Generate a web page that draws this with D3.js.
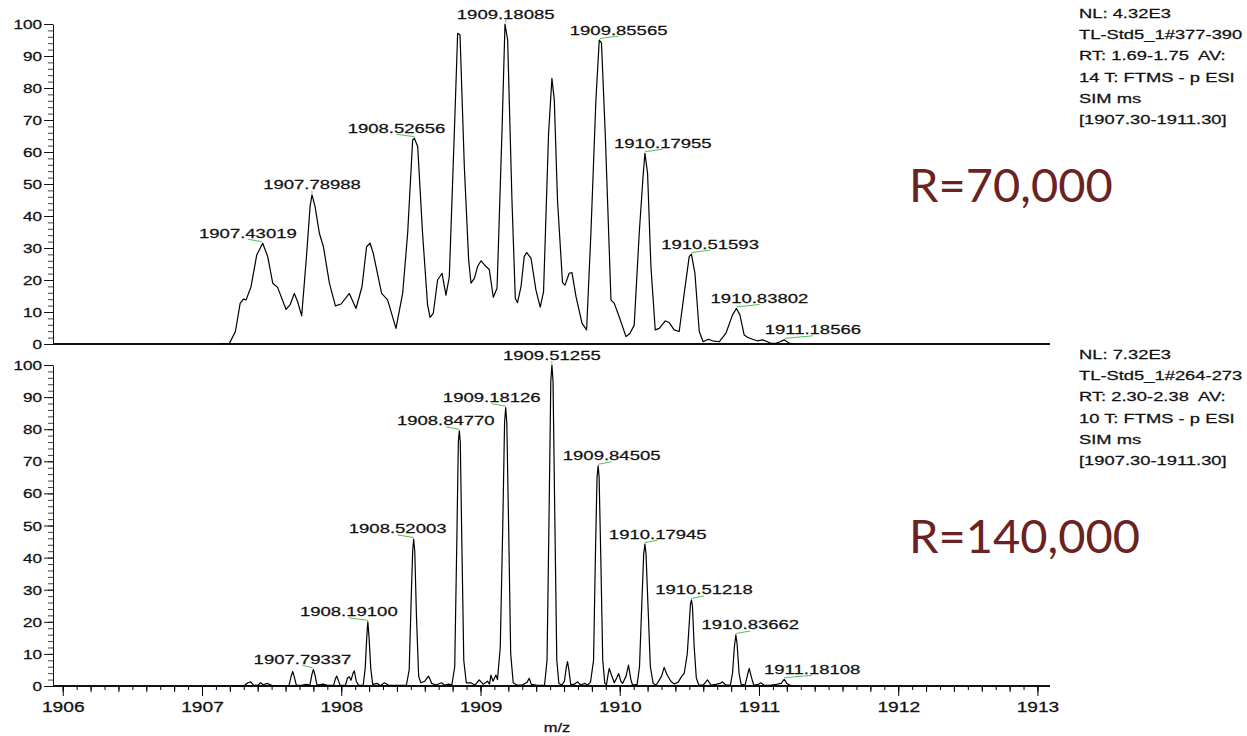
<!DOCTYPE html>
<html>
<head>
<meta charset="utf-8">
<script src="https://cdn.jsdelivr.net/npm/d3@7"></script>
<style>
body { margin: 0; background: #fff; }
svg text { font-family: "Liberation Sans", Arial, sans-serif; fill: #111; stroke: #111; stroke-width: 0.25px; }
svg text.res { stroke: none; }
.info { white-space: pre; }
</style>
</head>
<body>
<svg id="chart" width="1247" height="736"></svg>
<script>
// R=70,000 profile, [m/z, relative abundance]
var topProfile = [
  [1907.125, 0], [1907.197, 0.2], [1907.240, 3.9], [1907.274, 12.7], [1907.297, 14.0],
  [1907.317, 13.8], [1907.352, 17.9], [1907.393, 27.8], [1907.436, 31.5], [1907.472, 27.3],
  [1907.508, 19.0], [1907.543, 17.7], [1907.604, 10.8], [1907.632, 12.2], [1907.663, 15.8],
  [1907.687, 13.2], [1907.716, 8.8], [1907.752, 28.3], [1907.776, 42.9], [1907.790, 46.6],
  [1907.812, 42.9], [1907.843, 34.6], [1907.872, 30.4], [1907.915, 19.0], [1907.958, 11.9],
  [1907.999, 12.5], [1908.058, 15.8], [1908.106, 11.1], [1908.149, 17.9], [1908.182, 30.4],
  [1908.207, 31.5], [1908.230, 28.3], [1908.290, 15.8], [1908.333, 13.8], [1908.393, 4.9],
  [1908.441, 15.8], [1908.477, 34.6], [1908.513, 63.8], [1908.525, 64.3], [1908.549, 61.7],
  [1908.584, 34.6], [1908.620, 12.2], [1908.638, 8.3], [1908.661, 9.6], [1908.692, 20.0],
  [1908.724, 22.1], [1908.752, 15.3], [1908.776, 21.0], [1908.812, 65.8], [1908.836, 97.1],
  [1908.853, 96.6], [1908.884, 55.4], [1908.915, 26.3], [1908.932, 19.0], [1908.956, 20.5],
  [1908.979, 24.2], [1909.004, 26.0], [1909.040, 24.2], [1909.063, 23.3], [1909.092, 14.6],
  [1909.119, 17.4], [1909.154, 65.8], [1909.176, 100], [1909.195, 95.0], [1909.226, 45.0],
  [1909.250, 14.3], [1909.266, 12.9], [1909.291, 17.9], [1909.314, 27.3], [1909.331, 28.6],
  [1909.363, 26.8], [1909.398, 16.9], [1909.422, 12.7], [1909.429, 11.5], [1909.453, 16.4],
  [1909.489, 65.8], [1909.513, 83.0], [1909.530, 76.3], [1909.553, 45.0], [1909.589, 19.2],
  [1909.607, 18.4], [1909.637, 22.1], [1909.657, 22.3], [1909.686, 14.8], [1909.729, 6.5],
  [1909.762, 4.4], [1909.793, 34.6], [1909.829, 76.3], [1909.853, 95.0], [1909.869, 94.0],
  [1909.896, 65.8], [1909.937, 13.8], [1909.961, 12.7], [1909.996, 8.5], [1910.045, 2.3],
  [1910.073, 3.3], [1910.104, 5.9], [1910.140, 34.6], [1910.169, 53.3], [1910.181, 59.6],
  [1910.200, 53.3], [1910.224, 24.2], [1910.255, 4.4], [1910.284, 4.9], [1910.327, 7.2],
  [1910.355, 6.7], [1910.391, 4.4], [1910.427, 3.9], [1910.463, 15.8], [1910.499, 27.3],
  [1910.515, 28.1], [1910.540, 22.1], [1910.571, 3.9], [1910.599, 0.7], [1910.637, 1.5],
  [1910.666, 1.0], [1910.714, 0.7], [1910.762, 3.3], [1910.810, 9.1], [1910.838, 11.1],
  [1910.863, 9.1], [1910.894, 2.8], [1910.917, 2.1], [1910.953, 1.5], [1910.989, 1.0],
  [1911.025, 1.3], [1911.061, 0.7], [1911.085, 0.2], [1911.121, 0.2], [1911.152, 0.7],
  [1911.181, 1.3], [1911.212, 0.4], [1911.241, 0]
];

// R=140,000 profile
var bottomProfile = [
  [1907.200, 0], [1907.300, 0], [1907.330, 1.0], [1907.350, 1.3], [1907.370, 0.3],
  [1907.400, 0.2], [1907.420, 1.0], [1907.440, 0.4], [1907.470, 0.8], [1907.500, 0.2],
  [1907.600, 0.1], [1907.625, 0.2], [1907.640, 3.0], [1907.651, 4.5], [1907.662, 3.0],
  [1907.678, 0.2], [1907.720, 0.3], [1907.750, 0.5], [1907.775, 0.3], [1907.789, 3.5],
  [1907.800, 5.2], [1907.811, 3.5], [1907.826, 0.3], [1907.870, 0.6], [1907.900, 0.2],
  [1907.945, 0.2], [1907.958, 2.2], [1907.967, 3.1], [1907.977, 2.0], [1907.992, 0.2],
  [1908.030, 0.2], [1908.045, 2.5], [1908.058, 2.9], [1908.070, 1.8], [1908.085, 4.0],
  [1908.094, 4.7], [1908.108, 1.5], [1908.125, 0.2], [1908.158, 0.3], [1908.172, 5.5],
  [1908.183, 15.0], [1908.191, 20.0], [1908.200, 15.0], [1908.212, 5.5], [1908.226, 0.5],
  [1908.260, 0.8], [1908.280, 0.1], [1908.310, 1.0], [1908.340, 0.2], [1908.400, 0.2],
  [1908.468, 0.3], [1908.488, 5.0], [1908.503, 28.0], [1908.513, 42.0], [1908.520, 45.8],
  [1908.528, 42.0], [1908.540, 22.0], [1908.556, 3.0], [1908.572, 1.0], [1908.600, 1.5],
  [1908.627, 3.1], [1908.650, 0.8], [1908.680, 0.3], [1908.720, 1.0], [1908.740, 0.3],
  [1908.770, 0.6], [1908.795, 0.4], [1908.815, 6.0], [1908.830, 45.0], [1908.841, 76.0],
  [1908.848, 79.5], [1908.855, 76.0], [1908.866, 45.0], [1908.880, 8.0], [1908.898, 1.0],
  [1908.930, 1.0], [1908.960, 0.3], [1908.991, 1.9], [1909.020, 0.5], [1909.050, 1.5],
  [1909.065, 0.6], [1909.075, 3.4], [1909.090, 1.5], [1909.111, 3.4], [1909.122, 2.0],
  [1909.142, 12.0], [1909.160, 50.0], [1909.173, 82.0], [1909.181, 86.7], [1909.189, 82.0],
  [1909.202, 50.0], [1909.217, 10.0], [1909.235, 1.0], [1909.260, 0.3], [1909.300, 0.3],
  [1909.335, 1.2], [1909.350, 2.4], [1909.365, 0.5], [1909.400, 0.3], [1909.430, 0.2],
  [1909.460, 0.3], [1909.478, 8.0], [1909.493, 55.0], [1909.505, 95.0], [1909.513, 100],
  [1909.521, 95.0], [1909.533, 55.0], [1909.548, 8.0], [1909.563, 0.8], [1909.585, 0.3],
  [1909.603, 1.5], [1909.615, 5.5], [1909.625, 7.6], [1909.635, 5.0], [1909.648, 0.5],
  [1909.672, 0.5], [1909.697, 1.3], [1909.720, 0.3], [1909.750, 0.8], [1909.770, 0.3],
  [1909.790, 1.2], [1909.812, 8.0], [1909.825, 40.0], [1909.837, 65.0], [1909.845, 68.6],
  [1909.852, 65.0], [1909.864, 40.0], [1909.878, 8.0], [1909.893, 0.8], [1909.905, 0.5],
  [1909.918, 4.0], [1909.925, 5.5], [1909.940, 3.5], [1909.961, 1.0], [1909.978, 2.5],
  [1909.992, 3.9], [1910.008, 1.5], [1910.020, 0.8], [1910.045, 3.0], [1910.063, 6.5],
  [1910.080, 2.0], [1910.092, 0.3], [1910.125, 0.5], [1910.142, 6.0], [1910.158, 25.0],
  [1910.172, 41.0], [1910.181, 44.2], [1910.189, 41.0], [1910.203, 25.0], [1910.220, 6.0],
  [1910.240, 0.8], [1910.262, 0.3], [1910.300, 3.0], [1910.319, 5.8], [1910.340, 3.5],
  [1910.367, 1.5], [1910.391, 0.6], [1910.420, 1.2], [1910.445, 3.0], [1910.463, 3.9],
  [1910.485, 10.0], [1910.500, 20.0], [1910.508, 25.5], [1910.515, 26.8], [1910.522, 25.0],
  [1910.535, 12.0], [1910.550, 2.5], [1910.568, 0.3], [1910.600, 0.3], [1910.630, 1.9],
  [1910.655, 0.3], [1910.690, 0.5], [1910.720, 0.8], [1910.738, 1.3], [1910.760, 0.3],
  [1910.795, 0.3], [1910.810, 4.0], [1910.823, 12.0], [1910.834, 15.9], [1910.843, 13.0],
  [1910.857, 4.0], [1910.872, 0.5], [1910.900, 0.3], [1910.918, 3.5], [1910.930, 5.5],
  [1910.944, 3.0], [1910.962, 0.3], [1910.990, 0.4], [1911.014, 1.0], [1911.035, 0.3],
  [1911.080, 0.2], [1911.110, 0.4], [1911.160, 0.8], [1911.181, 2.1], [1911.200, 0.8],
  [1911.225, 0.2], [1911.250, 0]
];

// labelled centroids
var topLabels = ["1907.43019", "1907.78988", "1908.52656", "1909.18085", "1909.85565",
                 "1910.17955", "1910.51593", "1910.83802", "1911.18566"];
var topLabelInt = [31.5, 46.6, 64.3, 100, 95.0, 59.6, 28.1, 11.1, 1.3];
var bottomLabels = ["1907.79337", "1908.19100", "1908.52003", "1908.84770", "1909.18126",
                    "1909.51255", "1909.84505", "1910.17945", "1910.51218", "1910.83662", "1911.18108"];
var bottomLabelInt = [5.2, 20.0, 45.8, 79.5, 86.7, 100, 68.6, 44.2, 26.8, 15.9, 2.1];

// scan header text
var topInfo = ["NL: 4.32E3", "TL-Std5_1#377-390", "RT: 1.69-1.75  AV:", "14 T: FTMS - p ESI", "SIM ms", "[1907.30-1911.30]"];
var bottomInfo = ["NL: 7.32E3", "TL-Std5_1#264-273", "RT: 2.30-2.38  AV:", "10 T: FTMS - p ESI", "SIM ms", "[1907.30-1911.30]"];

var yTicks = d3.range(0, 101, 10);
var xTicks = d3.range(1906, 1914, 1);

// label offsets from their peak (px)
var topLabelDx = [-14, 0, -18, 0, 19, 18, 18.5, 23, 28];
var bottomLabelDx = [-10, -19, -16, -13.5, -14, 0, 13.5, 13, 13, 14, 28];

var stretch = 1.37;   // the source picture is wider than it is tall
var svg = d3.select("#chart");

var x = d3.scaleLinear()
        .domain([1905.93, 1913.09])
        .range([53, 1050]);

var panels = [
    {profile: topProfile, labels: topLabels, ints: topLabelInt, dx: topLabelDx,
     info: topInfo, res: "R=70,000", y0: 344, y1: 24, infoY: 18, resY: 202},
    {profile: bottomProfile, labels: bottomLabels, ints: bottomLabelInt, dx: bottomLabelDx,
     info: bottomInfo, res: "R=140,000", y0: 686, y1: 365, infoY: 359, resY: 553}
];

panels.forEach(function (p) {
    var y = d3.scaleLinear().domain([0, 100]).range([p.y0, p.y1]);

    //Minor y ticks every 2
    svg.append("g")
            .attr("transform", "translate(53,0)")
            .call(d3.axisLeft(y).tickValues(d3.range(0, 101, 2)).tickSize(5).tickSizeOuter(0).tickFormat(""))
            .call(function (g) { g.select(".domain").remove(); })
            .selectAll("line").attr("stroke", "#444");

    //Major y ticks with labels
    var ya = svg.append("g")
            .attr("transform", "translate(53,0)")
            .call(d3.axisLeft(y).tickValues(yTicks).tickSize(9).tickSizeOuter(0).tickFormat(d3.format("d")));
    ya.selectAll("text")
            .attr("x", -8)
            .attr("dy", "0.36em")
            .attr("transform", "scale(" + stretch + ",1)")
            .style("font-size", "12.5px");
    ya.selectAll("line, path").attr("stroke", "#111");

    //Baseline
    svg.append("line")
            .attr("x1", 53).attr("x2", 1050)
            .attr("y1", p.y0).attr("y2", p.y0)
            .attr("stroke", "#111")
            .attr("stroke-width", 2);

    //Spectrum
    var line = d3.line()
            .x(function (d) { return x(d[0]); })
            .y(function (d) { return y(d[1]); });
    svg.append("path")
            .datum(p.profile)
            .attr("d", line)
            .attr("fill", "none")
            .attr("stroke", "#000")
            .attr("stroke-width", 1.2)
            .attr("stroke-linejoin", "round");

    //Peak labels with their green leader
    var lab = svg.append("g").selectAll("g")
            .data(p.labels)
            .enter().append("g");
    lab.append("line")
            .attr("x1", function (d, i) { return x(+d) + p.dx[i]; })
            .attr("y1", function (d, i) { return y(p.ints[i]) - 4; })
            .attr("x2", function (d) { return x(+d); })
            .attr("y2", function (d, i) { return y(p.ints[i]) - 1.5; })
            .attr("stroke", "#55c055")
            .attr("stroke-width", 1);
    lab.append("text")
            .attr("transform", function (d, i) {
                return "translate(" + (x(+d) + p.dx[i]) + "," + (y(p.ints[i]) - 5.5) + ") scale(" + stretch + ",1)";
            })
            .attr("text-anchor", "middle")
            .style("font-size", "13.5px")
            .text(function (d) { return d; });

    //Scan header
    svg.append("g").selectAll("text")
            .data(p.info)
            .enter().append("text")
            .attr("class", "info")
            .attr("transform", function (d, i) {
                return "translate(1079," + (p.infoY + i * 21.2) + ") scale(1.36,1)";
            })
            .style("font-size", "13.5px")
            .text(function (d) { return d; });

    //Resolution tag
    svg.append("text")
            .attr("class", "res")
            .attr("x", 909)
            .attr("y", p.resY)
            .style("font-family", "Lato, 'Open Sans', sans-serif")
            .style("font-size", "47px")
            .style("fill", "#6b2222")
            .text(p.res);
});

//Bottom m/z axis: 0.1, 0.2 and 1.0 ticks
var axisY = 686;
svg.append("g")
        .attr("transform", "translate(0," + axisY + ")")
        .call(d3.axisBottom(x).tickValues(d3.range(19060, 19131).map(function (v) { return v / 10; }))
                .tickSize(4).tickSizeOuter(0).tickFormat(""))
        .call(function (g) { g.select(".domain").remove(); });
svg.append("g")
        .attr("transform", "translate(0," + axisY + ")")
        .call(d3.axisBottom(x).tickValues(d3.range(9530, 9566).map(function (v) { return v / 5; }))
                .tickSize(6).tickSizeOuter(0).tickFormat(""))
        .call(function (g) { g.select(".domain").remove(); });
var xa = svg.append("g")
        .attr("transform", "translate(0," + axisY + ")")
        .call(d3.axisBottom(x).tickValues(xTicks).tickSize(10).tickSizeOuter(0).tickFormat(d3.format("d")));
xa.select(".domain").remove();
xa.selectAll("text")
        .attr("y", 16.5)
        .attr("transform", "scale(" + stretch + ",1)")
        .style("font-size", "14px");

svg.append("text")
        .attr("transform", "translate(557,732) scale(" + stretch + ",1)")
        .attr("text-anchor", "middle")
        .style("font-size", "12px")
        .text("m/z");
</script>
</body>
</html>
